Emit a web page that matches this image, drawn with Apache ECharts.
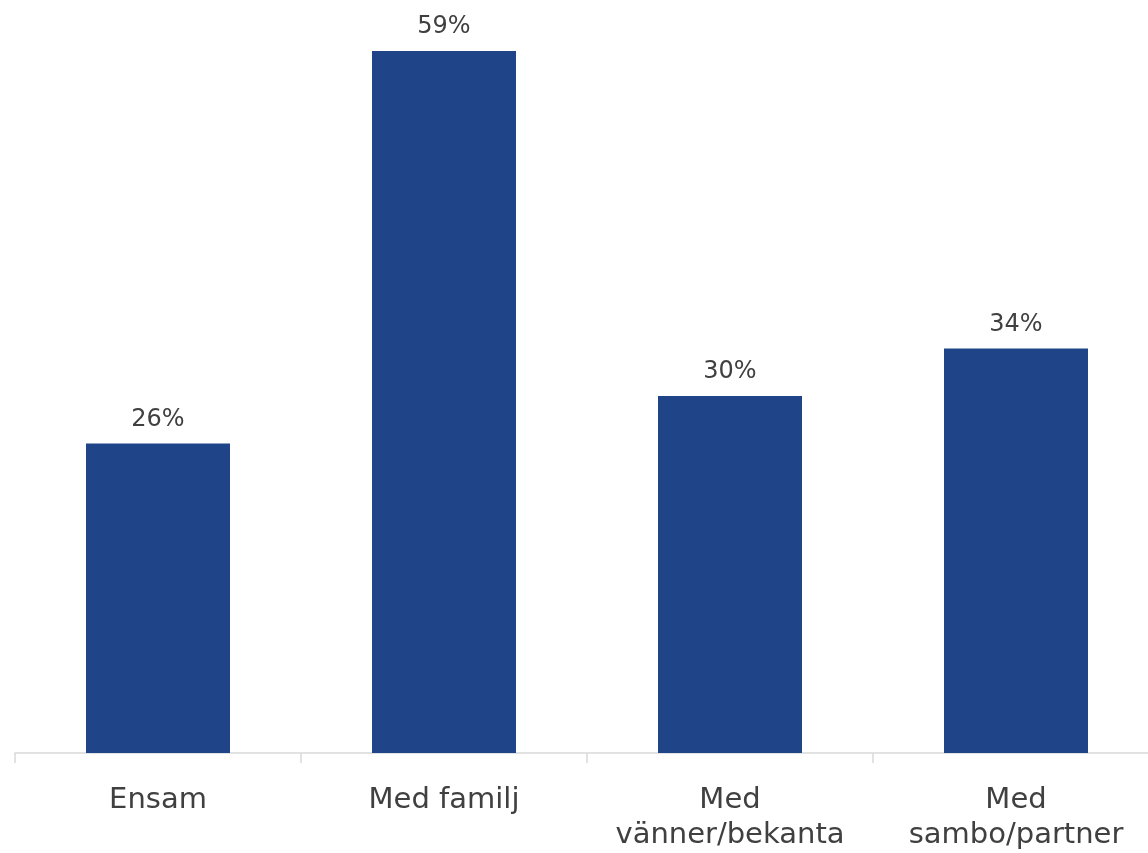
<!DOCTYPE html>
<html>
<head>
<meta charset="utf-8">
<script src="https://cdn.jsdelivr.net/npm/echarts@6/dist/echarts.min.js"></script>
<style>
html,body{margin:0;padding:0;background:#fff;overflow:hidden;width:1148px;height:853px;}
#chart{width:1159px;height:853px;}
</style>
</head>
<body>
<div id="chart"></div>
<script>
const categories = ["Ensam", "Med familj", "Med\nvänner/bekanta", "Med\nsambo/partner"];
const values = [26, 59, 30, 34];

const chart = echarts.init(document.getElementById('chart'), null, {renderer: 'canvas'});
chart.setOption({
  animation: false,
  backgroundColor: '#ffffff',
  grid: {left: 15, top: 39, right: 0, bottom: 100, containLabel: false},
  xAxis: {
    type: 'category',
    data: categories,
    axisLine: {lineStyle: {color: '#d9d9d9', width: 1.5}},
    axisTick: {show: true, length: 10, alignWithLabel: false, lineStyle: {color: '#d9d9d9', width: 1.5}},
    axisLabel: {
      interval: 0,
      margin: 30,
      color: '#404040',
      fontFamily: 'DejaVu Sans',
      fontSize: 29,
      lineHeight: 35
    }
  },
  yAxis: {
    type: 'value',
    min: 0,
    max: 60,
    show: false,
    splitLine: {show: false}
  },
  series: [{
    type: 'bar',
    data: values,
    barWidth: 144,
    itemStyle: {color: '#1F4487'},
    label: {
      show: true,
      position: 'top',
      distance: 12,
      formatter: '{c}%',
      color: '#404040',
      fontFamily: 'DejaVu Sans',
      fontSize: 24
    }
  }]
});
</script>
</body>
</html>
